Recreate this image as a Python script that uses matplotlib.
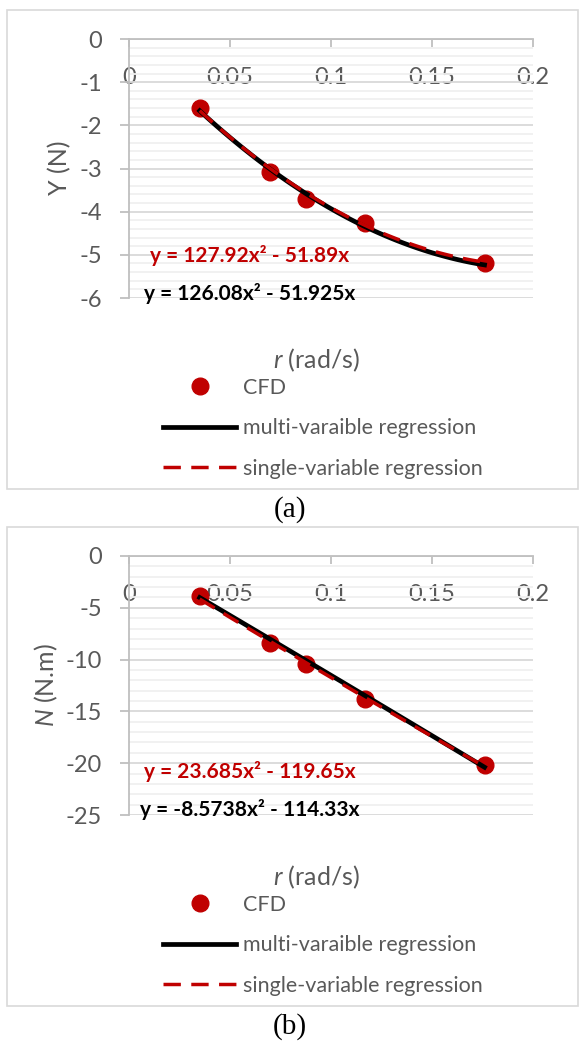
import numpy as np
import matplotlib.pyplot as plt
from matplotlib.patches import Rectangle
from matplotlib.ticker import MultipleLocator

plt.rcParams['font.family'] = ['Lato', 'DejaVu Sans']
plt.rcParams['mathtext.fontset'] = 'custom'
plt.rcParams['mathtext.it'] = 'Lato:italic'
plt.rcParams['mathtext.rm'] = 'Lato'
plt.rcParams['axes.unicode_minus'] = False

# === data ===
r = [0.035, 0.07, 0.0875, 0.117, 0.176]        # yaw rate (rad/s)
Y_cfd = [-1.6, -3.07, -3.7, -4.26, -5.2]       # Y (N)
N_cfd = [-3.9, -8.4, -10.45, -13.8, -20.2]     # N (N.m)

# regression coefficients, as printed on the chart (a*x^2 + b*x)
Y_multi = [126.08, -51.925, 0.0]
Y_single = [127.92, -51.89, 0.0]
N_multi = [-8.5738, -114.33, 0.0]
N_single = [23.685, -119.65, 0.0]

Y_eq_multi = "y = 126.08x\u00b2 - 51.925x"
Y_eq_single = "y = 127.92x\u00b2 - 51.89x"
N_eq_multi = "y = -8.5738x\u00b2 - 114.33x"
N_eq_single = "y = 23.685x\u00b2 - 119.65x"

x_ticks = [0, 0.05, 0.1, 0.15, 0.2]
x_ticklabels = ['0', '0.05', '0.1', '0.15', '0.2']

RED = '#C00000'
GRAY = '#595959'
W, H = 579, 1041


def fx(px):
    return px / W


def fy(py):
    return 1 - py / H


fig = plt.figure(figsize=(W / 100, H / 100), dpi=100)


def panel(top, cfd, multi, single, ylim, major, minor, ylabel, ylab_x,
          eq_single, eq_multi, cap):
    # outer chart frame (Excel style)
    fig.patches.append(Rectangle((fx(7), fy(top + 479)), fx(571), 479 / H,
                                 transform=fig.transFigure, fill=False,
                                 ec='#D9D9D9', lw=1.2))
    ax = fig.add_axes([fx(129), fy(top + 288), fx(404), 259 / H])
    ax.set_xlim(0, 0.2)
    ax.set_ylim(ylim, 0)

    ax.grid(axis='y', which='minor', color='#F0F0F0', lw=1.3)
    ax.grid(axis='y', which='major', color='#D9D9D9', lw=1.3)
    ax.set_axisbelow(True)
    for s in ['bottom', 'right']:
        ax.spines[s].set_visible(False)
    for s in ['top', 'left']:
        ax.spines[s].set_color('#BFBFBF')
        ax.spines[s].set_linewidth(1.3)

    ax.xaxis.set_ticks_position('top')
    ax.set_xticks(x_ticks)
    ax.set_xticklabels(x_ticklabels)
    ax.tick_params(axis='x', direction='in', length=6, width=1.3, color='#BFBFBF',
                   labelsize=17, labelcolor=GRAY, pad=-35)
    ax.yaxis.set_major_locator(MultipleLocator(major))
    ax.yaxis.set_minor_locator(MultipleLocator(minor))
    ax.tick_params(axis='y', direction='out', length=6.5, width=1.3, color='#BFBFBF',
                   labelsize=17, labelcolor=GRAY, pad=13)
    ax.tick_params(axis='y', which='minor', length=0)

    xs = np.linspace(r[0], r[-1], 100)
    ax.plot(r, cfd, 'o', color=RED, ms=12, zorder=3, label='CFD')
    ax.plot(xs, np.polyval(multi, xs), '-', color='black', lw=3.4, zorder=4,
            label='multi-varaible regression')
    ax.plot(xs, np.polyval(single, xs), '--', color=RED, lw=2.5, dashes=(5, 3),
            zorder=5, label='single-variable regression')

    fig.text(fx(ylab_x), fy(top + 158), ylabel, rotation=90, ha='center',
             va='center', fontsize=18, color=GRAY)
    fig.text(fx(316), fy(top + 350), r'$\mathit{r}$ (rad/s)', ha='center',
             va='center', fontsize=18, color=GRAY)
    fig.text(fx(250), fy(top + 245), eq_single, ha='center', va='center',
             fontsize=15, fontweight='bold', color=RED)
    fig.text(fx(250), fy(top + 283), eq_multi, ha='center', va='center',
             fontsize=15, fontweight='bold', color='black')

    fig.legend(loc='upper left', bbox_to_anchor=(fx(163), fy(top + 368)),
               frameon=False, fontsize=15.5, labelcolor=GRAY, handlelength=3.4,
               handletextpad=0.3, labelspacing=0.95, borderpad=0, borderaxespad=0,
               handles=ax.get_lines())
    fig.text(fx(290), fy(top + 500), cap, ha='center', va='center', fontsize=21,
             family='Liberation Serif', color='black')
    return ax


panel(10, Y_cfd, Y_multi, Y_single, -6, 1, 0.2, 'Y (N)', 60,
      Y_eq_single, Y_eq_multi, '(a)')
panel(527, N_cfd, N_multi, N_single, -25, 5, 1, r'$\mathit{N}$ (N.m)', 46,
      N_eq_single, N_eq_multi, '(b)')

plt.savefig('out.png', dpi=100)
